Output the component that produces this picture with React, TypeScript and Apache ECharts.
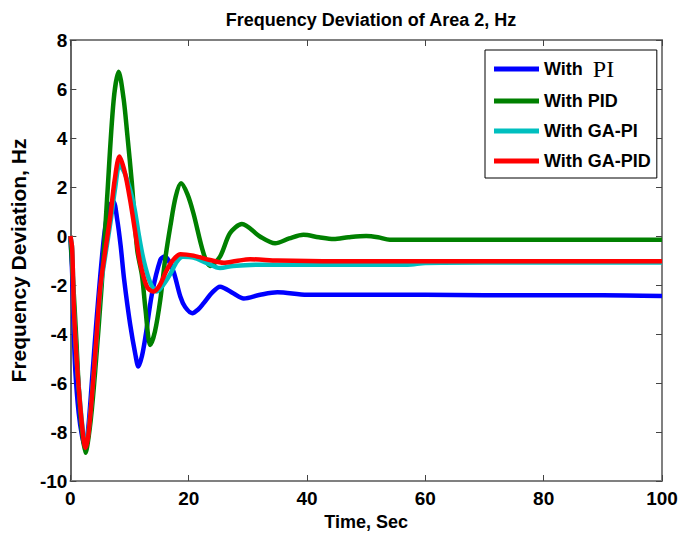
import React, { useEffect, useRef } from "react";
import * as echarts from "echarts";

const SANS = '"Liberation Sans", Arial, sans-serif';
const SERIF = '"Liberation Serif", "Times New Roman", serif';

const titleText = "Frequency Deviation of Area 2, Hz";
const xName = "Time, Sec";
const yName = "Frequency Deviation, Hz";
const seriesNames = ["With PI", "With PID", "With GA-PI", "With GA-PID"];
const seriesColors = ["#0000ff", "#008000", "#00bfbf", "#ff0000"];

// With PI (blue)
const tPI = [0, 0.3, 0.56, 0.84, 1.4, 2.0, 2.5, 3.0, 3.65, 4.4, 5.1, 5.7, 6.2, 6.8, 7.3, 7.9, 8.5, 9.1, 10.1, 11.0, 11.5, 12.1, 12.7, 13.8, 15.2, 15.9, 16.6, 17.5, 18.6, 19.4, 20.6, 21.6, 22.5, 24, 25.3, 27.6, 29.3, 32.1, 35, 40, 50, 60, 70, 80, 90, 100];
const vPI = [0, -1.5, -3.8, -5.5, -7.2, -8.2, -8.6, -7.9, -5.9, -3.5, -1.5, 0.0, 0.8, 1.3, 1.4, 0.7, -0.4, -1.8, -3.6, -4.85, -5.33, -4.9, -4.1, -2.35, -0.98, -0.84, -1.0, -1.5, -2.48, -2.9, -3.15, -3.0, -2.75, -2.3, -2.07, -2.35, -2.55, -2.4, -2.3, -2.4, -2.4, -2.4, -2.42, -2.42, -2.42, -2.45];

// With PID (green)
const tPID = [0, 0.5, 1, 1.7, 2.55, 3.4, 4.2, 5.3, 6.2, 7.3, 8.16, 9.0, 9.6, 10.4, 11.3, 12.1, 12.7, 13.5, 14.3, 15.2, 16.0, 16.9, 17.8, 18.7, 19.8, 20.8, 22.5, 23.6, 25.3, 27, 29, 32.1, 34.6, 37, 39.4, 42, 44.5, 47, 50, 52, 54, 60, 80, 100];
const vPID = [0, -2, -4.2, -7.3, -8.85, -7.6, -5.5, -2.0, 1.5, 5.5, 6.7, 5.6, 4.2, 2.15, -0.57, -1.6, -3.0, -4.45, -3.9, -2.6, -1.0, 0.4, 1.6, 2.15, 1.7, 0.93, -0.7, -1.22, -0.84, 0.12, 0.49, -0.03, -0.3, -0.1, 0.05, -0.05, -0.12, -0.05, 0.0, -0.05, -0.15, -0.15, -0.15, -0.15];

// With GA-PI (cyan)
const tGAPI = [0, 0.3, 0.6, 1.0, 1.4, 2.0, 2.53, 3.0, 3.65, 4.4, 5.07, 5.9, 6.8, 7.6, 8.3, 9.3, 10.7, 11.6, 12.4, 13.5, 14.6, 15.7, 16.9, 18.0, 19.0, 20.8, 23, 25.3, 27.5, 30.4, 35, 45, 57, 60, 70, 85, 100];
const vGAPI = [0, -0.5, -3.0, -4.8, -6.1, -7.7, -8.55, -8.1, -6.5, -4.3, -2.2, -0.8, 0.6, 2.0, 2.9, 2.5, 1.3, 0.0, -1.0, -1.9, -2.27, -2.0, -1.55, -1.05, -0.85, -0.88, -1.1, -1.31, -1.22, -1.18, -1.17, -1.17, -1.17, -1.1, -1.08, -1.08, -1.08];

// With GA-PID (red)
const tGAPID = [0, 0.3, 0.6, 1.0, 1.4, 2.0, 2.53, 3.0, 3.65, 4.4, 5.07, 5.9, 6.75, 7.5, 8.3, 9.2, 10.1, 11.0, 11.8, 12.95, 14.0, 15.0, 16.3, 17.3, 18.6, 20.8, 23.6, 25.9, 28, 30.4, 35, 45, 60, 80, 100];
const vGAPID = [0, -0.5, -3.0, -4.8, -6.15, -7.8, -8.65, -8.2, -6.55, -4.2, -2.07, -0.6, 0.8, 2.3, 3.24, 2.6, 1.47, 0.1, -1.1, -2.07, -2.27, -2.05, -1.39, -1.0, -0.74, -0.8, -0.98, -1.09, -1.02, -0.95, -1.0, -1.03, -1.03, -1.03, -1.03];

const xMin = 0, xMax = 100, xStep = 20;
const yMin = -10, yMax = 8, yStep = 2;

const allT = [tPI, tPID, tGAPI, tGAPID];
const allV = [vPI, vPID, vGAPI, vGAPID];

export default function App() {
  const ref = useRef<HTMLDivElement>(null);
  useEffect(() => {
    if (!ref.current) return;
    const chart = echarts.init(ref.current, null, { renderer: "svg" });
    const frame = { show: true, onZero: false, lineStyle: { color: "#808080", width: 2 } };
    const ticks = { show: true, inside: true, length: 6, lineStyle: { color: "#444", width: 1 } };
    chart.setOption({
      animation: false,
      backgroundColor: "#ffffff",
      title: {
        text: titleText,
        left: 366,
        top: 6,
        textAlign: "center",
        textStyle: { fontFamily: SANS, fontSize: 18, fontWeight: "bold", color: "#000" },
      },
      grid: { left: 70, right: 35, top: 40, bottom: 55, containLabel: false },
      legend: {
        orient: "vertical",
        left: 485,
        top: 50,
        padding: [7, 6, 7, 9],
        itemGap: 10,
        itemWidth: 45,
        itemHeight: 5,
        icon: "rect",
        borderColor: "#000",
        borderWidth: 1,
        backgroundColor: "#fff",
        borderRadius: 0,
        data: seriesNames,
        formatter: (name: string) => (name === "With PI" ? "With  {pi|PI}" : name),
        textStyle: {
          fontFamily: SANS,
          fontSize: 18,
          fontWeight: "bold",
          color: "#000",
          lineHeight: 20,
          rich: {
            pi: { fontFamily: SERIF, fontSize: 24, fontWeight: "normal", color: "#000", lineHeight: 20 },
          },
        },
      },
      xAxis: [
        {
          type: "value", min: xMin, max: xMax, interval: xStep, position: "bottom",
          name: xName, nameLocation: "middle", nameGap: 30,
          nameTextStyle: { fontFamily: SANS, fontSize: 18, fontWeight: "bold", color: "#000" },
          axisLine: frame, axisTick: ticks, splitLine: { show: false },
          axisLabel: { fontFamily: SANS, fontSize: 19, fontWeight: "bold", color: "#000", margin: 8 },
        },
        {
          type: "value", min: xMin, max: xMax, interval: xStep, position: "top",
          axisLine: frame, axisTick: ticks, splitLine: { show: false }, axisLabel: { show: false },
        },
      ],
      yAxis: [
        {
          type: "value", min: yMin, max: yMax, interval: yStep, position: "left",
          name: yName, nameLocation: "middle", nameGap: 36,
          nameTextStyle: { fontFamily: SANS, fontSize: 21, fontWeight: "bold", color: "#000" },
          axisLine: { show: true, onZero: false, lineStyle: { color: "#333", width: 1.5 } }, axisTick: ticks, splitLine: { show: false },
          axisLabel: { fontFamily: SANS, fontSize: 19, fontWeight: "bold", color: "#000", margin: 3 },
        },
        {
          type: "value", min: yMin, max: yMax, interval: yStep, position: "right",
          axisLine: frame, axisTick: ticks, splitLine: { show: false }, axisLabel: { show: false },
        },
      ],
      series: seriesNames.map((name, i) => ({
        name,
        type: "line",
        xAxisIndex: 0,
        yAxisIndex: 0,
        showSymbol: false,
        smooth: 0.3,
        color: seriesColors[i],
        lineStyle: { color: seriesColors[i], width: 4.5 },
        data: allT[i].map((t, j) => [t, allV[i][j]]),
      })),
    });
    return () => chart.dispose();
  }, []);
  return <div ref={ref} style={{ width: 697, height: 536, position: "absolute", left: 0, top: 0 }} />;
}
